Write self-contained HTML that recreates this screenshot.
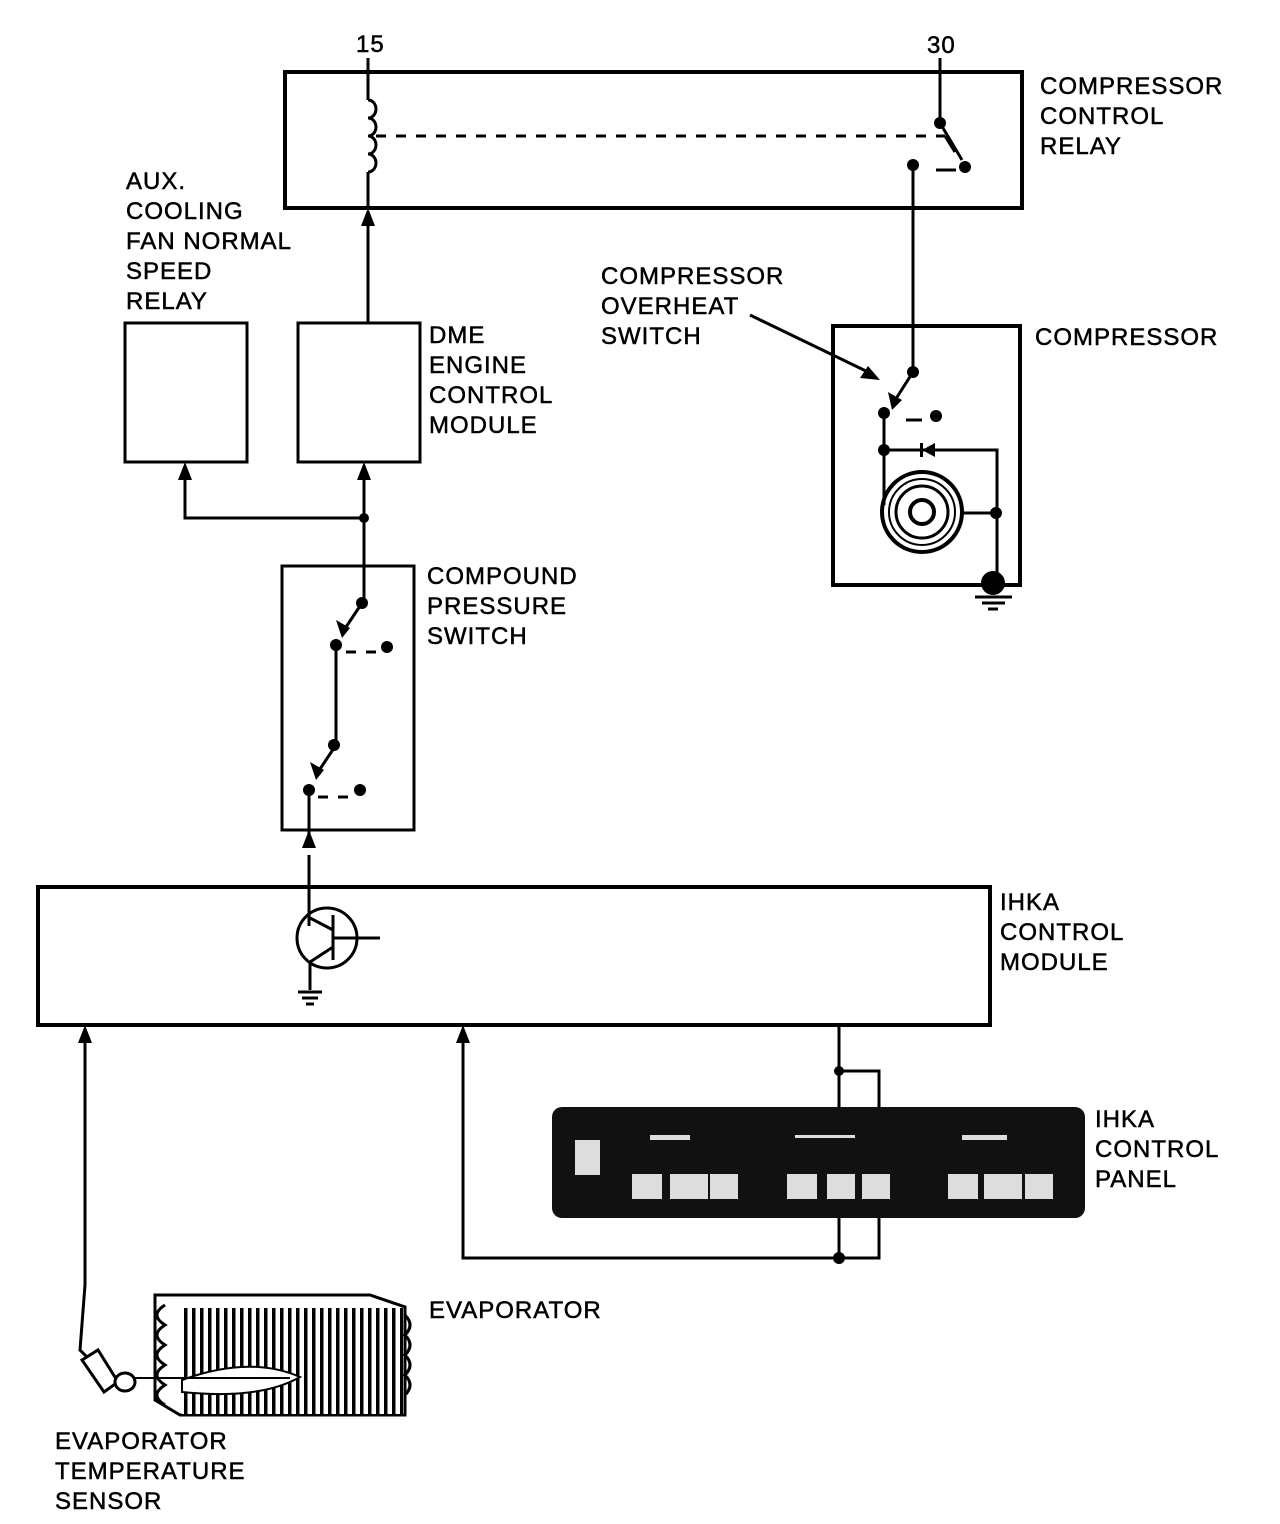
<!DOCTYPE html>
<html><head><style>
html,body{margin:0;padding:0;background:#fff;}
svg{display:block}
text{font-family:"Liberation Sans",sans-serif;font-size:24px;fill:#000;letter-spacing:1px;stroke:#000;stroke-width:0.5px}
</style></head><body>
<svg width="1280" height="1524" viewBox="0 0 1280 1524" xmlns="http://www.w3.org/2000/svg">
<defs>
<pattern id="fins" width="8" height="10" patternUnits="userSpaceOnUse"><rect width="8" height="10" fill="#fff"/><rect x="0" width="3.5" height="10" fill="#000"/></pattern>
</defs>
<g stroke="#000" stroke-width="3" fill="none">
<rect x="285" y="72" width="737" height="136" stroke-width="4"/>
<line x1="368" y1="58" x2="368" y2="100"/>
<path d="M368,100 a8,9 0 0 1 0,18 a8,9 0 0 1 0,18 a8,9 0 0 1 0,18 a8,9 0 0 1 0,18"/>
<line x1="368" y1="172" x2="368" y2="208"/>
<line x1="376" y1="136" x2="945" y2="136" stroke-dasharray="10,10"/>
<line x1="945" y1="136" x2="955" y2="152"/>
<line x1="940" y1="58" x2="940" y2="123"/>
<line x1="940" y1="123" x2="962" y2="160"/>
<line x1="936" y1="170" x2="956" y2="170"/>
<line x1="913" y1="165" x2="913" y2="372"/>
<line x1="368" y1="322" x2="368" y2="222"/>
<rect x="125" y="323" width="122" height="139"/>
<rect x="298" y="323" width="122" height="139"/>
<rect x="833" y="326" width="187" height="259" stroke-width="4"/>
<rect x="282" y="566" width="132" height="264"/>
<rect x="38" y="887" width="952" height="138" stroke-width="4"/>
<line x1="364" y1="475" x2="364" y2="602"/>
<polyline points="185,475 185,518 364,518"/>
<line x1="362" y1="603" x2="342" y2="633"/>
<line x1="336" y1="645" x2="336" y2="745"/>
<line x1="336" y1="745" x2="316" y2="775"/>
<line x1="346" y1="652" x2="376" y2="652" stroke-dasharray="10,10"/>
<line x1="318" y1="797" x2="350" y2="797" stroke-dasharray="10,10"/>
<line x1="309" y1="790" x2="309" y2="845"/>
<circle cx="327" cy="938" r="30"/>
<line x1="309" y1="855" x2="309" y2="926"/>
<line x1="333" y1="915" x2="333" y2="960"/>
<line x1="333" y1="938" x2="380" y2="938"/>
<line x1="333" y1="930" x2="310" y2="918"/>
<line x1="333" y1="947" x2="310" y2="962"/>
<line x1="310" y1="962" x2="310" y2="990"/>
<line x1="298" y1="992" x2="322" y2="992"/>
<line x1="302" y1="998" x2="318" y2="998"/>
<line x1="306" y1="1004" x2="314" y2="1004"/>
<line x1="913" y1="372" x2="892" y2="405"/>
<line x1="884" y1="414" x2="884" y2="505"/>
<line x1="906" y1="420" x2="922" y2="420"/>
<polyline points="884,450 997,450 997,578"/>
<line x1="962" y1="513" x2="997" y2="513"/>
<circle cx="922" cy="512" r="40" stroke-width="4"/>
<circle cx="922" cy="512" r="33" stroke-width="2"/>
<circle cx="922" cy="512" r="26" stroke-width="3"/>
<circle cx="922" cy="512" r="12" stroke-width="4"/>
<line x1="975" y1="597" x2="1012" y2="597"/>
<line x1="982" y1="603" x2="1005" y2="603"/>
<line x1="988" y1="609" x2="998" y2="609"/>
<line x1="750" y1="315" x2="868" y2="372"/>
<line x1="839" y1="1025" x2="839" y2="1107"/>
<polyline points="839,1071 879,1071 879,1107"/>
<line x1="839" y1="1218" x2="839" y2="1258"/>
<polyline points="879,1218 879,1258 463,1258 463,1040"/>
<polyline points="85,1040 85,1285 80,1350 95,1365"/>
</g>
<g fill="#000">
<polygon points="368,208 361,226 375,226"/>
<polygon points="185,462 178,480 192,480"/>
<polygon points="364,462 357,480 371,480"/>
<polygon points="309,830 302,848 316,848"/>
<polygon points="85,1025 78,1043 92,1043"/>
<polygon points="463,1025 456,1043 470,1043"/>
<polygon points="342,638 336,620 350,628"/>
<polygon points="316,780 310,762 324,770"/>
<polygon points="892,410 888,392 902,400"/>
<polygon points="880,380 860,378 868,366"/>
<polygon points="922,450 935,443 935,457"/>
<rect x="920" y="443" width="3" height="14"/>
<circle cx="940" cy="123" r="6"/><circle cx="965" cy="167" r="6"/><circle cx="913" cy="165" r="6"/>
<circle cx="364" cy="518" r="5"/><circle cx="362" cy="603" r="6"/><circle cx="336" cy="645" r="6"/>
<circle cx="387" cy="647" r="6"/><circle cx="334" cy="745" r="6"/><circle cx="309" cy="790" r="6"/><circle cx="360" cy="790" r="6"/>
<circle cx="913" cy="372" r="6"/><circle cx="884" cy="413" r="6"/><circle cx="936" cy="416" r="6"/><circle cx="884" cy="450" r="6"/>
<circle cx="996" cy="513" r="6"/><circle cx="993" cy="583" r="12"/>
<circle cx="839" cy="1071" r="5"/><circle cx="839" cy="1258" r="6"/>
<circle cx="922" cy="512" r="5" fill="#fff"/>
<rect x="552" y="1107" width="533" height="111" rx="10" fill="#111"/>
</g>
<g fill="#ddd">
<rect x="575" y="1140" width="25" height="35"/>
<rect x="632" y="1174" width="30" height="25"/><rect x="670" y="1174" width="38" height="25"/><rect x="710" y="1174" width="28" height="25"/>
<rect x="787" y="1174" width="30" height="25"/><rect x="827" y="1174" width="28" height="25"/><rect x="862" y="1174" width="28" height="25"/>
<rect x="948" y="1174" width="30" height="25"/><rect x="984" y="1174" width="38" height="25"/><rect x="1025" y="1174" width="28" height="25"/>
<rect x="650" y="1135" width="40" height="5"/><rect x="795" y="1135" width="60" height="3"/><rect x="962" y="1135" width="45" height="5"/>
</g>
<g stroke="#000" stroke-width="3">
<polygon points="155,1295 370,1295 405,1307 405,1415 180,1415 155,1400" fill="#fff"/>
<rect x="182" y="1308" width="222" height="106" fill="url(#fins)" stroke="none"/>
<path d="M182,1380 Q250,1355 300,1377 Q260,1400 182,1392 Z" fill="#fff" stroke-width="2"/>
<line x1="130" y1="1378" x2="290" y2="1378" stroke-width="2"/>
<path d="M165,1305 q-16,10 0,20 q-16,10 0,20 q-16,10 0,20 q-16,10 0,20 q-16,10 0,20" fill="none"/>
<path d="M405,1315 q10,10 0,20 q10,10 0,20 q10,10 0,20 q10,10 0,20" fill="none"/>
<polygon points="82,1360 98,1350 118,1382 104,1392" fill="#fff"/>
<ellipse cx="125" cy="1382" rx="10" ry="9" fill="#fff"/>
</g>
<text x="356" y="52">15</text>
<text x="927" y="53">30</text>
<text x="1040" y="94">COMPRESSOR</text><text x="1040" y="124">CONTROL</text><text x="1040" y="154">RELAY</text>
<text x="126" y="189">AUX.</text><text x="126" y="219">COOLING</text><text x="126" y="249">FAN NORMAL</text><text x="126" y="279">SPEED</text><text x="126" y="309">RELAY</text>
<text x="429" y="343">DME</text><text x="429" y="373">ENGINE</text><text x="429" y="403">CONTROL</text><text x="429" y="433">MODULE</text>
<text x="601" y="284">COMPRESSOR</text><text x="601" y="314">OVERHEAT</text><text x="601" y="344">SWITCH</text>
<text x="1035" y="345">COMPRESSOR</text>
<text x="427" y="584">COMPOUND</text><text x="427" y="614">PRESSURE</text><text x="427" y="644">SWITCH</text>
<text x="1000" y="910">IHKA</text><text x="1000" y="940">CONTROL</text><text x="1000" y="970">MODULE</text>
<text x="1095" y="1127">IHKA</text><text x="1095" y="1157">CONTROL</text><text x="1095" y="1187">PANEL</text>
<text x="429" y="1318">EVAPORATOR</text>
<text x="55" y="1449">EVAPORATOR</text><text x="55" y="1479">TEMPERATURE</text><text x="55" y="1509">SENSOR</text>
</svg>
</body></html>
